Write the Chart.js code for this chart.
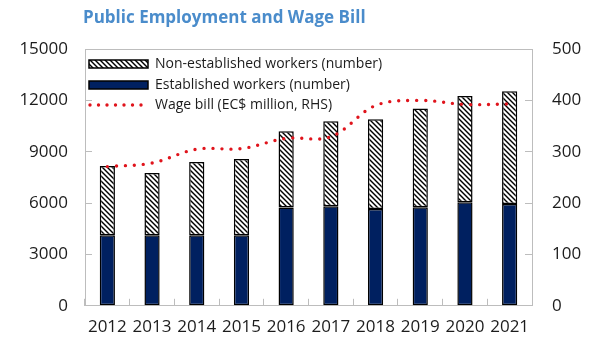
<!DOCTYPE html>
<html>
<head>
<meta charset="utf-8">
<script src="https://cdn.jsdelivr.net/npm/chart.js@4.4.0/dist/chart.umd.min.js"></script>
<style>
  html, body { margin: 0; padding: 0; background: #fff; }
</style>
</head>
<body>
<canvas id="empChart" width="595" height="343"></canvas>
<script>
// años y series
const years = ['2012', '2013', '2014', '2015', '2016', '2017', '2018', '2019', '2020', '2021'];
const established = [4120, 4120, 4120, 4120, 5740, 5820, 5650, 5760, 6050, 5950];
const nonEstablished = [4050, 3640, 4280, 4450, 4450, 4960, 5240, 5760, 6210, 6580];
const wageBill = [271, 278, 305, 306, 326, 329, 390, 400, 392, 393];

const leftTicks = [0, 3000, 6000, 9000, 12000, 15000];
const rightTicks = [0, 100, 200, 300, 400, 500];

const chartTitle = 'Public Employment and Wage Bill';
const legendLabels = ['Non-established workers (number)', 'Established workers (number)', 'Wage bill (EC$ million, RHS)'];

const navy = '#002060';
const red = '#e0141c';
const axisGrey = '#bdbdbd';
const textColor = '#1c1c1c';
const fontFamily = '"Open Sans", "Noto Sans", sans-serif';

// patron rayado para los no establecidos
function makeHatch() {
    let s = 5;
    let c = document.createElement('canvas');
    c.width = s;
    c.height = s;
    let g = c.getContext('2d');
    g.fillStyle = '#fff';
    g.fillRect(0, 0, s, s);
    g.strokeStyle = '#000';
    g.lineWidth = 1.4;
    for (let k = -1; k <= 1; k++) {
        g.beginPath();
        g.moveTo(k * s - 1, -1);
        g.lineTo(k * s + s + 1, s + 1);
        g.stroke();
    }
    return document.getElementById('empChart').getContext('2d').createPattern(c, 'repeat');
}
const hatch = makeHatch();

// titulo, marco superior y leyenda dentro del area del grafico
const overlay = {
    id: 'overlay',
    afterDraw(chart) {
        const ctx = chart.ctx;
        const area = chart.chartArea;
        ctx.save();

        ctx.strokeStyle = axisGrey;
        ctx.lineWidth = 1;
        ctx.beginPath();
        ctx.moveTo(area.left, area.top + 0.5);
        ctx.lineTo(area.right, area.top + 0.5);
        ctx.stroke();

        ctx.fillStyle = '#4a8ccb';
        ctx.font = 'bold 17px ' + fontFamily;
        ctx.textBaseline = 'middle';
        ctx.textAlign = 'left';
        ctx.fillText(chartTitle, 83, 18);

        const x0 = 89, x1 = 148;
        const rows = [64, 85, 105];

        ctx.lineWidth = 1.5;
        ctx.strokeStyle = '#000';
        ctx.fillStyle = hatch;
        ctx.fillRect(x0, rows[0] - 4, x1 - x0, 8);
        ctx.strokeRect(x0, rows[0] - 4, x1 - x0, 8);

        ctx.fillStyle = navy;
        ctx.fillRect(x0, rows[1] - 4, x1 - x0, 8);
        ctx.strokeRect(x0, rows[1] - 4, x1 - x0, 8);

        ctx.strokeStyle = red;
        ctx.lineWidth = 3.4;
        ctx.lineCap = 'round';
        ctx.setLineDash([0, 8.5]);
        ctx.beginPath();
        ctx.moveTo(x0 + 1, rows[2]);
        ctx.lineTo(x1, rows[2]);
        ctx.stroke();
        ctx.setLineDash([]);

        ctx.fillStyle = textColor;
        ctx.font = '14px ' + fontFamily;
        for (let i = 0; i < legendLabels.length; i++) {
            ctx.fillText(legendLabels[i], 155, rows[i]);
        }
        ctx.restore();
    }
};

const tickFont = { family: fontFamily, size: 17 };
const plain = v => String(v);

new Chart(document.getElementById('empChart'), {
    type: 'bar',
    data: {
        labels: years,
        datasets: [
            {
                type: 'line',
                label: legendLabels[2],
                data: wageBill,
                yAxisID: 'y1',
                borderColor: red,
                borderWidth: 3.4,
                borderDash: [0, 9],
                borderCapStyle: 'round',
                pointRadius: 0,
                tension: 0.35,
                fill: false,
                order: 0
            },
            {
                label: legendLabels[1],
                data: established,
                backgroundColor: navy,
                borderColor: '#000',
                borderWidth: 1.5,
                borderSkipped: false,
                categoryPercentage: 1,
                barPercentage: 0.34,
                order: 1
            },
            {
                label: legendLabels[0],
                data: nonEstablished,
                backgroundColor: hatch,
                borderColor: '#000',
                borderWidth: 1.5,
                borderSkipped: false,
                categoryPercentage: 1,
                barPercentage: 0.34,
                order: 1
            }
        ]
    },
    options: {
        responsive: false,
        animation: false,
        devicePixelRatio: 1,
        layout: { padding: { top: 49, left: 0, right: 0, bottom: 0 } },
        plugins: {
            legend: { display: false },
            title: { display: false },
            tooltip: { enabled: false }
        },
        scales: {
            x: {
                stacked: true,
                grid: { drawOnChartArea: false, tickLength: -7, color: axisGrey, offset: true },
                border: { color: axisGrey, width: 1 },
                ticks: { font: tickFont, color: textColor, padding: 18, maxRotation: 0 },
                afterFit(s) { s.height = 32; }
            },
            y: {
                stacked: true,
                position: 'left',
                min: 0,
                max: 15000,
                afterBuildTicks(s) { s.ticks = leftTicks.map(v => ({ value: v })); },
                grid: { drawOnChartArea: false, tickLength: -7, color: axisGrey },
                border: { color: axisGrey, width: 1 },
                ticks: { font: tickFont, color: textColor, padding: 24, callback: plain },
                afterFit(s) { s.width = 85; }
            },
            y1: {
                position: 'right',
                min: 0,
                max: 500,
                afterBuildTicks(s) { s.ticks = rightTicks.map(v => ({ value: v })); },
                grid: { drawOnChartArea: false, tickLength: -7, color: axisGrey },
                border: { color: axisGrey, width: 1 },
                ticks: { font: tickFont, color: textColor, padding: 27, callback: plain },
                afterFit(s) { s.width = 63; }
            }
        }
    },
    plugins: [overlay]
});
</script>
</body>
</html>
